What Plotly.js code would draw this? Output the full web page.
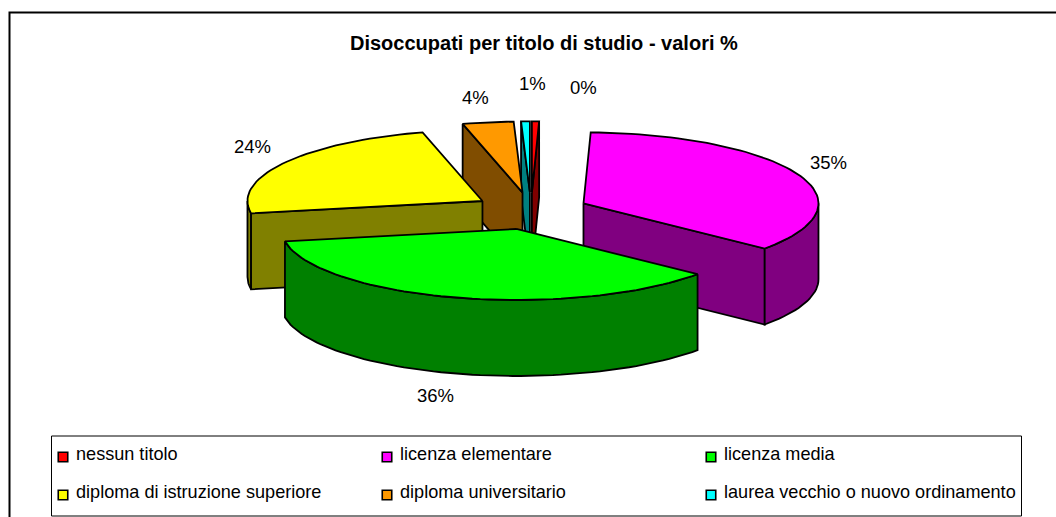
<!DOCTYPE html>
<html><head><meta charset="utf-8">
<script src="https://cdn.plot.ly/plotly-3.0.0.min.js"></script>
<style>html,body{margin:0;padding:0;background:#fff}#chart{width:1056px;height:517px}</style>
</head><body><div id="chart"></div>
<script>
// --- data ---
const categories = ["nessun titolo","licenza elementare","licenza media","diploma di istruzione superiore","diploma universitario","laurea vecchio o nuovo ordinamento"];
const shares = [0.49, 35.49, 36.22, 23.69, 3.5, 0.6];
const topColors = ["#FF0000","#FF00FF","#00FF00","#FFFF00","#FF9900","#00FFFF"];
const sideColors = ["#800000","#800080","#008000","#808000","#804D00","#008080"];
const chartTitle = "Disoccupati per titolo di studio - valori %";

// --- geometry of the exploded, tilted pie (axes run in page pixels) ---
const CX=531, CY=211, RX=235, RY=71, DEPTH=76, EX=57.6, EY=18.6;
const FONT="Liberation Sans, Arial, sans-serif";
const total = shares.reduce((a,b)=>a+b,0);
const rad = d=>d*Math.PI/180;
let acc=0;
const slices = shares.map((v,i)=>{
  const a0=acc/total*360; acc+=v; const a1=acc/total*360; const m=(a0+a1)/2;
  return {i,a0,a1,m,ax:CX+EX*Math.sin(rad(m)),ay:CY-EY*Math.cos(rad(m))};
});
const rim=(s,t)=>[s.ax+RX*Math.sin(rad(t)), s.ay-RY*Math.cos(rad(t))];
function arc(s,t0,t1){const n=Math.max(2,Math.ceil(Math.abs(t1-t0)/2));const p=[];for(let k=0;k<=n;k++)p.push(rim(s,t0+(t1-t0)*k/n));return p;}
function poly(pts,fill){return {type:"scatter",mode:"lines",x:pts.map(p=>p[0]).concat(pts[0][0]),y:pts.map(p=>p[1]).concat(pts[0][1]),
  fill:"toself",fillcolor:fill,line:{color:"#000",width:1.8},hoverinfo:"skip",showlegend:false};}
function down(pts){return pts.map(p=>[p[0],p[1]+DEPTH]);}
function cutWall(s,t){const r=rim(s,t);const a=[s.ax,s.ay];return poly([a,r,[r[0],r[1]+DEPTH],[a[0],a[1]+DEPTH]],sideColors[s.i]);}
function outerWall(s,t0,t1){const p=arc(s,t0,t1);return poly(p.concat(down(p).reverse()),sideColors[s.i]);}
function topFace(s){return poly([[s.ax,s.ay]].concat(arc(s,s.a0,s.a1)),topColors[s.i]);}

const traces=[];
// back slices first, then the large front ones
const [red,mag,grn,yel,ora,cya]=slices;
traces.push(cutWall(red,red.a1),topFace(red));
traces.push(cutWall(cya,cya.a0),topFace(cya));
traces.push(cutWall(ora,ora.a0),topFace(ora));
traces.push(outerWall(yel,yel.a0,270),cutWall(yel,yel.a0),topFace(yel));
traces.push(cutWall(mag,mag.a1),outerWall(mag,90,mag.a1),topFace(mag));
traces.push(outerWall(grn,grn.a0,grn.a1),topFace(grn));

// legend drawn as three columns by two rows
const legendCols=[63,387,711], legendRows=[457,495];
categories.forEach((c,i)=>{
  const x=legendCols[i%3], y=legendRows[Math.floor(i/3)];
  traces.push({type:"scatter",mode:"markers",x:[x],y:[y],
    marker:{symbol:"square",size:9.5,color:topColors[i],line:{color:"#000",width:1.6}},
    hoverinfo:"skip",showlegend:false,cliponaxis:false});
  traces.push({type:"scatter",mode:"text",x:[x+13],y:[y-2],
    text:[c],textposition:"middle right",textfont:{family:FONT,size:18.1,color:"#000"},
    hoverinfo:"skip",showlegend:false,cliponaxis:false});
});

// percentage labels
const labelPlaces=[[583,87],[828,162],[435,395],[252,146],[475,97],[532,83]];
const annotations=shares.map((v,i)=>({x:labelPlaces[i][0],y:labelPlaces[i][1],xref:"x",yref:"y",
  text:Math.round(v)+"%",showarrow:false,font:{family:FONT,size:18.5,color:"#000"}}));
annotations.push({x:543.5,y:43,xref:"x",yref:"y",text:"<b>"+chartTitle+"</b>",showarrow:false,
  font:{family:FONT,size:20,color:"#000"}});

const layout={width:1056,height:517,margin:{l:0,r:0,t:0,b:0},paper_bgcolor:"#fff",plot_bgcolor:"#fff",showlegend:false,
  xaxis:{range:[0,1056],visible:false,fixedrange:true},
  yaxis:{range:[517,0],visible:false,fixedrange:true},
  annotations,
  shapes:[
    {type:"rect",xref:"x",yref:"y",x0:9.5,x1:1070,y0:12.5,y1:530,line:{color:"#000",width:2},layer:"below"},
    {type:"rect",xref:"x",yref:"y",x0:51.5,x1:1021.5,y0:436,y1:516,fillcolor:"#fff",line:{color:"#000",width:1},layer:"below"}
  ]};
Plotly.newPlot("chart",traces,layout,{staticPlot:true,displayModeBar:false});
</script></body></html>
